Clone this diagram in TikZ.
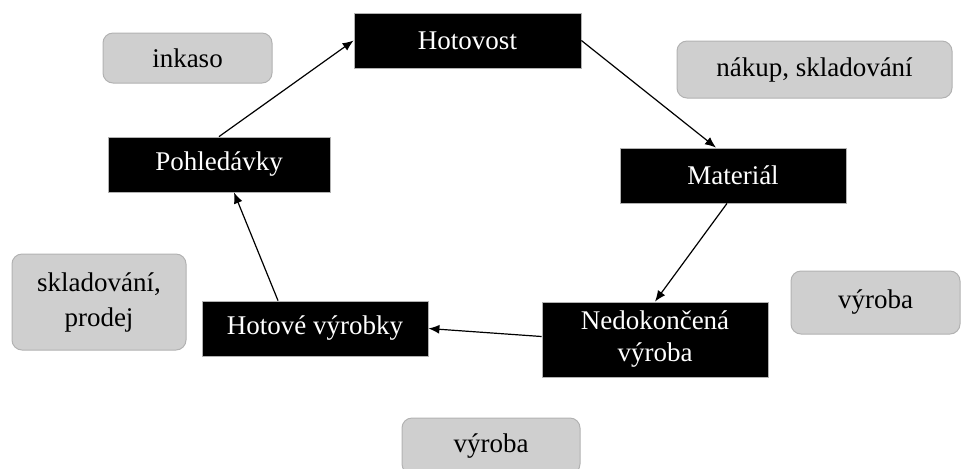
\documentclass[tikz,border=0pt]{standalone}
\usepackage{fontspec}
\setmainfont{Liberation Serif}
\usetikzlibrary{arrows.meta}
\definecolor{boxgray}{RGB}{207,207,207}
\definecolor{edgegray}{RGB}{178,178,178}
\tikzset{
  stage/.style={fill=black, draw=gray!60, line width=0.4pt, text=white, align=center,
    inner sep=2pt, font=\fontsize{13.5}{16}\selectfont},
  note/.style={fill=boxgray, draw=edgegray, line width=0.5pt, rounded corners=5pt, align=center,
    inner sep=2pt, font=\fontsize{13.5}{17.5}\selectfont},
  flow/.style={-{Latex[length=5.5pt,width=4.5pt]}, line width=0.6pt}
}
\begin{document}
\begin{tikzpicture}[x=0.5pt,y=-0.5pt]
			\useasboundingbox (0,0) rectangle (965,468);
			% cycle stages
			\node[stage, minimum width=113.5pt, minimum height=27.5pt] (hotovost) at (467.5,40.5) {Hotovost};
			\node[stage, minimum width=113pt, minimum height=27.5pt] (material) at (733,175.5) {Materiál};
			\node[stage, minimum width=113pt, minimum height=37.5pt] (nedok) at (655,339.5) {Nedokončená\\výroba};
			\node[stage, minimum width=113pt, minimum height=27.5pt] (hotove) at (315,328.5) {Hotové výrobky};
			\node[stage, minimum width=111pt, minimum height=27.5pt] (pohled) at (219,164.5) {Pohledávky};
			% activities
			\node[note, minimum width=84.5pt, minimum height=25pt] (inkaso) at (187.5,58) {inkaso};
			\node[note, minimum width=137.5pt, minimum height=28.5pt] (nakup) at (814.5,69.5) {nákup, skladování};
			\node[note, minimum width=84.5pt, minimum height=31.5pt] (vyrobaR) at (875.5,302.5) {výroba};
			\node[note, minimum width=87pt, minimum height=48pt] (sklad) at (99,302) {skladování,\\prodej};
			\node[note, minimum width=89pt, minimum height=28pt] (vyrobaB) at (491,446) {výroba};
			% arrows
			\draw[flow] (pohled.north) -- (hotovost.west);
			\draw[flow] (hotovost.east) -- ([xshift=-8.5pt]material.north);
			\draw[flow] ([xshift=-3pt]material.south) -- (nedok.north);
			\draw[flow] ([yshift=1.5pt]nedok.west) -- (hotove.east);
			\draw[flow] ([xshift=-18.5pt]hotove.north) -- ([xshift=7.5pt]pohled.south);
		\end{tikzpicture}
\end{document}
